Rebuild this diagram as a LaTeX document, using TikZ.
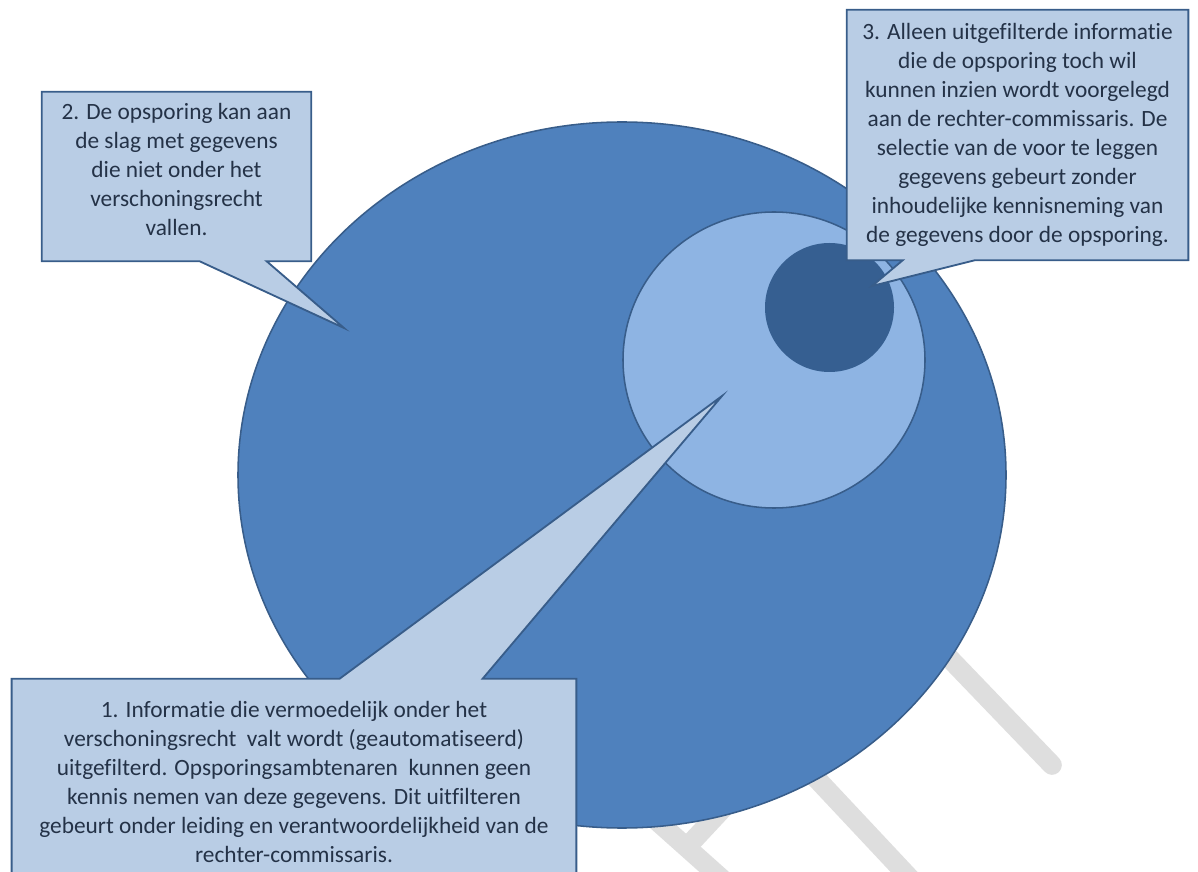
\documentclass[tikz,border=0pt]{standalone}
\usepackage{fontspec}
\setmainfont{Carlito}[Ligatures=NoCommon]
\usetikzlibrary{calc,backgrounds}
\definecolor{outerblue}{HTML}{4F81BD}
\definecolor{innerblue}{HTML}{8EB4E3}
\definecolor{coreblue}{HTML}{365F91}
\definecolor{rimblue}{HTML}{385D8A}
\definecolor{notefill}{HTML}{B9CDE5}
\definecolor{notetext}{HTML}{243247}
\definecolor{markgray}{HTML}{DEDEDE}

\begin{document}
\begin{tikzpicture}[x=0.025cm,y=-0.025cm,
  note/.style={align=center,inner sep=0pt,text=notetext,font=\fontsize{16.6}{20.6}\selectfont},
  bubble/.style={fill=notefill,draw=rimblue,line width=1.3pt,line join=miter},
  disc/.style={draw=rimblue,line width=1.1pt},
  watermark/.style={draw=markgray,line width=14pt,line cap=round}]
\useasboundingbox (0,0) rectangle (1198,872);
% the three callout texts
\node (info2) [note,minimum width=6.725cm,minimum height=4.225cm] at (176.5,176.5)
  {2. De opsporing kan aan\\de slag met gegevens\\die niet onder het\\verschoningsrecht\\vallen.\\[-0.35cm]};
\node (info3) [note,minimum width=8.525cm,minimum height=6.25cm] at (1017.5,135)
  {3. Alleen uitgefilterde informatie\\die de opsporing toch wil\\kunnen inzien wordt voorgelegd\\aan de rechter-commissaris. De\\selectie van de voor te leggen\\gegevens gebeurt zonder\\inhoudelijke kennisneming van\\de gegevens door de opsporing.};
\node (info1) [note,minimum width=14.1cm,minimum height=5.15cm] at (294,782)
  {1. Informatie die vermoedelijk onder het\\verschoningsrecht\ \ valt wordt (geautomatiseerd)\\uitgefilterd. Opsporingsambtenaren\ \ kunnen geen\\kennis nemen van deze gegevens. Dit uitfilteren\\gebeurt onder leiding en verantwoordelijkheid van de\\rechter-commissaris.};
%
\coordinate (tip1) at (722,396);
\coordinate (tip2) at (344,328);
\coordinate (tip3) at (872,286);
%
\begin{scope}[on background layer]
% watermark strokes, mostly hidden
\draw[watermark] (905,612) -- (1052,765);
\draw[watermark] (740,697) -- (935,905);
\draw[watermark] (620,788) -- (740,895);
\draw[watermark,line cap=butt] (770,758) -- (687,847);
% nested discs
\draw[disc,fill=outerblue] (622,475) ellipse [x radius=384,y radius=353];
\draw[disc,fill=innerblue] (774,360) ellipse [x radius=151,y radius=148];
\fill[coreblue] (829.5,307.5) circle [radius=64.5];
% callout outlines
\draw[bubble] (info2.north west) -- (info2.north east) -- (info2.south east)
  -- ($(info2.south west)+(225,0)$) -- (tip2) -- ($(info2.south west)+(158,0)$)
  -- (info2.south west) -- cycle;
\draw[bubble] (info3.north west) -- (info3.north east) -- (info3.south east)
  -- ($(info3.south west)+(128,0)$) -- (tip3) -- ($(info3.south west)+(56,0)$)
  -- (info3.south west) -- cycle;
\draw[bubble] (info1.south west) -- (info1.north west) -- ($(info1.north west)+(328,0)$)
  -- (tip1) -- ($(info1.north west)+(471,0)$) -- (info1.north east)
  -- (info1.south east) -- cycle;
\end{scope}
\end{tikzpicture}
\end{document}
